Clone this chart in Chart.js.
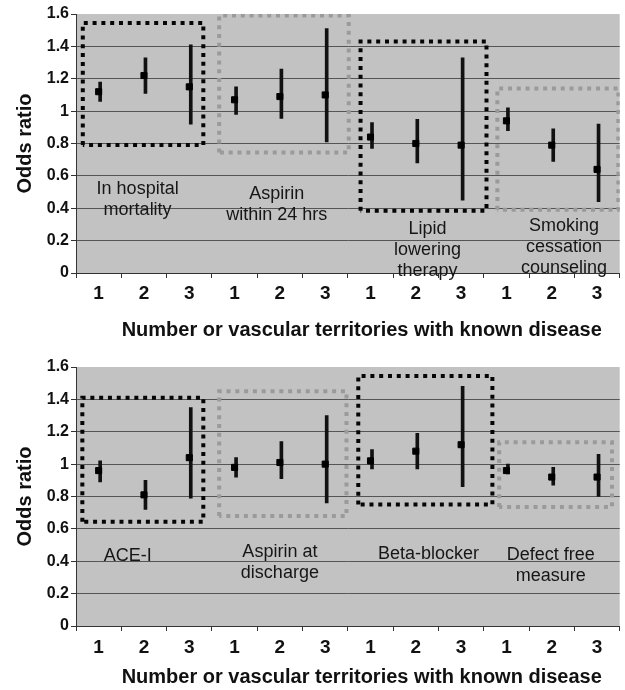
<!DOCTYPE html>
<html><head><meta charset="utf-8">
<script src="https://cdn.jsdelivr.net/npm/chart.js@4.4.0/dist/chart.umd.min.js"></script>
<style>
html,body{margin:0;padding:0;background:#fff;width:625px;height:690px;overflow:hidden;}
#wrapTop{position:absolute;left:0;top:0;width:625px;height:345px;}
#wrapBot{position:absolute;left:0;top:353px;width:625px;height:337px;}
</style></head><body>
<div id="wrapTop"><canvas id="topChart" width="625" height="345"></canvas></div>
<div id="wrapBot"><canvas id="botChart" width="625" height="337"></canvas></div>
<script>
// ---- data ----
const tickLabels = ['1','2','3','1','2','3','1','2','3','1','2','3'];
const xTitle = '\u00a0\u00a0\u00a0\u00a0\u00a0Number or vascular territories with known disease';
const yTitle = 'Odds ratio';

// top panel
const topMeasures = [['In hospital','mortality'],['Aspirin','within 24 hrs'],['Lipid','lowering','therapy'],['Smoking','cessation','counseling']];
const topOR   = [1.12, 1.22, 1.15, 1.07, 1.09, 1.10, 0.84, 0.80, 0.79, 0.94, 0.79, 0.64];
const topLow  = [1.06, 1.11, 0.92, 0.98, 0.955, 0.81, 0.77, 0.68, 0.45, 0.88, 0.69, 0.44];
const topHigh = [1.18, 1.33, 1.41, 1.15, 1.26, 1.51, 0.93, 0.95, 1.33, 1.02, 0.89, 0.92];
const topBoxLeft   = [-0.35, 2.66, 5.78, 8.80];
const topBoxRight  = [2.31, 5.52, 8.56, 11.47];
const topBoxBottom = [0.79, 0.745, 0.385, 0.39];
const topBoxTop    = [1.545, 1.59, 1.43, 1.14];
const topLabelX = [0.86, 3.93, 7.26, 10.27];
const topLabelY = [0.52, 0.49, 0.27, 0.29];

// bottom panel
const botMeasures = [['ACE-I'],['Aspirin at','discharge'],['Beta-blocker'],['Defect free','measure']];
const botOR   = [0.96, 0.81, 1.04, 0.98, 1.01, 1.00, 1.02, 1.08, 1.12, 0.96, 0.92, 0.92];
const botLow  = [0.89, 0.72, 0.79, 0.92, 0.91, 0.76, 0.97, 0.97, 0.86, 0.94, 0.87, 0.80];
const botHigh = [1.02, 0.90, 1.35, 1.04, 1.14, 1.30, 1.09, 1.19, 1.48, 1.00, 0.98, 1.06];
const botBoxLeft   = [-0.36, 2.66, 5.73, 8.84];
const botBoxRight  = [2.31, 5.47, 8.69, 11.33];
const botBoxBottom = [0.644, 0.68, 0.75, 0.735];
const botBoxTop    = [1.41, 1.45, 1.545, 1.135];
const botLabelX = [0.64, 4.0, 7.28, 9.98];
const botLabelY = [0.435, 0.456, 0.445, 0.439];

// ---- styles ----
const FONT = "'Liberation Sans', Arial, Helvetica, sans-serif";
const boxColors = ['#050505', '#9a9a9a', '#050505', '#9a9a9a'];
Chart.defaults.font.family = FONT;

const bgPlugin = {
  id: 'plotBg',
  beforeDraw(chart) {
    const a = chart.chartArea, ctx = chart.ctx;
    ctx.save();
    ctx.fillStyle = '#c2c2c2';
    ctx.fillRect(a.left, a.top, a.right - a.left, a.bottom - a.top);
    ctx.restore();
  }
};

const textPlugin = {
  id: 'groupText',
  afterDatasetsDraw(chart, args, opts) {
    const ctx = chart.ctx, xs = chart.scales.x2, ys = chart.scales.y;
    ctx.save();
    ctx.fillStyle = '#161616';
    ctx.font = '18px ' + FONT;
    ctx.textAlign = 'center';
    ctx.textBaseline = 'middle';
    opts.texts.forEach((lines, i) => {
      const x = xs.getPixelForValue(opts.xs[i]);
      const y0 = ys.getPixelForValue(opts.ys[i]);
      lines.forEach((t, j) => ctx.fillText(t, x, y0 + j * 21));
    });
    ctx.restore();
  }
};

function makeChart(id, or, low, high, bl, br, bb, bt, texts, lx, ly, tickPad, titleBottomPad, xAxisHeight) {
  const boxSets = bl.map((l, i) => ({
    type: 'line', xAxisID: 'x2', order: 3,
    data: [{x: l, y: bb[i]}, {x: l, y: bt[i]}, {x: br[i], y: bt[i]}, {x: br[i], y: bb[i]}, {x: l, y: bb[i]}],
    borderColor: boxColors[i], borderWidth: 4, borderDash: [4, 4.8], borderCapStyle: 'butt',
    pointRadius: 0, fill: false, tension: 0
  }));
  return new Chart(document.getElementById(id), {
    type: 'bar',
    data: {
      labels: tickLabels,
      datasets: [
        ...boxSets,
        { type: 'bar', order: 2, data: low.map((v, i) => [v, high[i]]),
          backgroundColor: '#111', borderWidth: 0, barThickness: 3 },
        { type: 'line', order: 1, data: or, showLine: false,
          pointStyle: 'rect', pointRadius: 4.3, pointBackgroundColor: '#000',
          pointBorderColor: '#000', pointBorderWidth: 1 }
      ]
    },
    options: {
      responsive: false, animation: false, devicePixelRatio: 1,
      layout: { padding: { top: 14, right: 2, left: 0, bottom: 0 } },
      plugins: {
        legend: { display: false }, tooltip: { enabled: false },
        groupText: { texts: texts, xs: lx, ys: ly }
      },
      scales: {
        x: {
          type: 'category', offset: true,
          grid: { offset: true, drawOnChartArea: false, drawTicks: true, tickLength: 5, tickColor: '#333' },
          border: { display: true, color: '#333', width: 1 },
          ticks: { color: '#111', font: { size: 19, weight: 'bold' }, padding: tickPad, maxRotation: 0, autoSkip: false },
          title: { display: true, text: xTitle, color: '#111', font: { size: 20, weight: 'bold' }, padding: { top: 0, bottom: titleBottomPad } },
          afterFit: s => { s.height = xAxisHeight; }
        },
        x2: { type: 'linear', display: false, min: -0.5, max: 11.5, offset: false, grid: { offset: false } },
        y: {
          min: 0, max: 1.6,
          ticks: { stepSize: 0.2, color: '#111', font: { size: 16, weight: 'bold' }, padding: 2,
                   callback: v => String(+(+v).toFixed(1)) },
          grid: {
            color: c => (c.tick && (c.tick.value < 0.01 || c.tick.value > 1.59)) ? 'rgba(0,0,0,0)' : '#555',
            lineWidth: 1, drawTicks: true, tickLength: 5, tickColor: '#333'
          },
          border: { display: true, color: '#333', width: 1 },
          title: { display: true, text: yTitle, color: '#111', font: { size: 20, weight: 'bold' }, padding: { top: 13, bottom: 0 } },
          afterFit: s => { s.width = 76; }
        }
      }
    },
    plugins: [bgPlugin, textPlugin]
  });
}

makeChart('topChart', topOR, topLow, topHigh, topBoxLeft, topBoxRight, topBoxBottom, topBoxTop,
          topMeasures, topLabelX, topLabelY, 4, 3, 72);
makeChart('botChart', botOR, botLow, botHigh, botBoxLeft, botBoxRight, botBoxBottom, botBoxTop,
          botMeasures, botLabelX, botLabelY, 5, 1, 64);
</script>
</body></html>
